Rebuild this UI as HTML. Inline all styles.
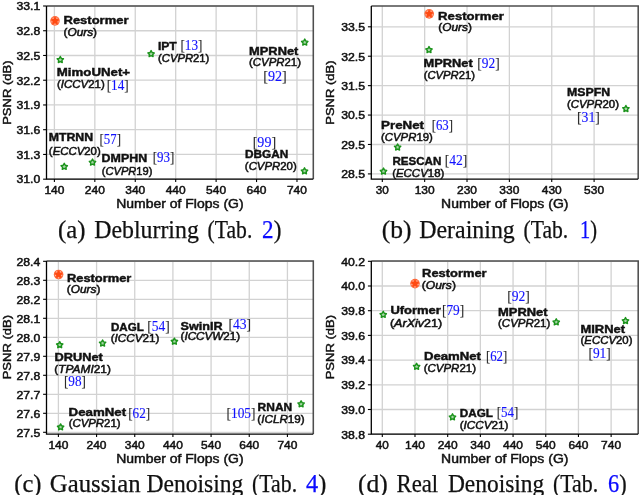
<!DOCTYPE html>
<html lang="en"><head><meta charset="utf-8"><title>Restormer: PSNR vs FLOPs</title>
<style>
html,body{margin:0;padding:0;background:#fff;}
body{width:640px;height:495px;overflow:hidden;font-family:"Liberation Sans",sans-serif;}
svg{display:block;will-change:transform;}
text{white-space:pre;}
</style></head><body>
<svg width="640" height="495" viewBox="0 0 640 495">
<rect width="640" height="495" fill="#fff"/>
<g id="chart-a">
<line x1="54.40" y1="5.95" x2="54.40" y2="179.05" stroke="#d2d2d2" stroke-width="1.3"/>
<line x1="94.83" y1="5.95" x2="94.83" y2="179.05" stroke="#d2d2d2" stroke-width="1.3"/>
<line x1="135.26" y1="5.95" x2="135.26" y2="179.05" stroke="#d2d2d2" stroke-width="1.3"/>
<line x1="175.69" y1="5.95" x2="175.69" y2="179.05" stroke="#d2d2d2" stroke-width="1.3"/>
<line x1="216.12" y1="5.95" x2="216.12" y2="179.05" stroke="#d2d2d2" stroke-width="1.3"/>
<line x1="256.55" y1="5.95" x2="256.55" y2="179.05" stroke="#d2d2d2" stroke-width="1.3"/>
<line x1="296.98" y1="5.95" x2="296.98" y2="179.05" stroke="#d2d2d2" stroke-width="1.3"/>
<line x1="46.50" y1="6.00" x2="313.30" y2="6.00" stroke="#d2d2d2" stroke-width="1.3"/>
<line x1="46.50" y1="30.74" x2="313.30" y2="30.74" stroke="#d2d2d2" stroke-width="1.3"/>
<line x1="46.50" y1="55.48" x2="313.30" y2="55.48" stroke="#d2d2d2" stroke-width="1.3"/>
<line x1="46.50" y1="80.22" x2="313.30" y2="80.22" stroke="#d2d2d2" stroke-width="1.3"/>
<line x1="46.50" y1="104.96" x2="313.30" y2="104.96" stroke="#d2d2d2" stroke-width="1.3"/>
<line x1="46.50" y1="129.70" x2="313.30" y2="129.70" stroke="#d2d2d2" stroke-width="1.3"/>
<line x1="46.50" y1="154.44" x2="313.30" y2="154.44" stroke="#d2d2d2" stroke-width="1.3"/>
<line x1="46.50" y1="179.18" x2="313.30" y2="179.18" stroke="#d2d2d2" stroke-width="1.3"/>
<circle cx="55.00" cy="20.85" r="4.8" fill="#ff6a3c"/>
<path d="M55.00 16.65 L56.35 18.99 L58.99 19.55 L57.19 21.56 L57.47 24.25 L55.00 23.15 L52.53 24.25 L52.81 21.56 L51.01 19.55 L53.65 18.99 Z" fill="#ff4a12"/>
<circle cx="56.94" cy="18.18" r="0.6" fill="#ffc9b8"/>
<circle cx="58.14" cy="21.87" r="0.6" fill="#ffc9b8"/>
<circle cx="55.00" cy="24.15" r="0.6" fill="#ffc9b8"/>
<circle cx="51.86" cy="21.87" r="0.6" fill="#ffc9b8"/>
<circle cx="53.06" cy="18.18" r="0.6" fill="#ffc9b8"/>
<path d="M60.30 56.50 L61.33 58.38 L63.44 58.78 L61.96 60.34 L62.24 62.47 L60.30 61.55 L58.36 62.47 L58.64 60.34 L57.16 58.78 L59.27 58.38 Z" fill="#a8d6a8" stroke="#1b931b" stroke-width="1.45" stroke-linejoin="round"/>
<path d="M151.10 50.60 L152.13 52.48 L154.24 52.88 L152.76 54.44 L153.04 56.57 L151.10 55.65 L149.16 56.57 L149.44 54.44 L147.96 52.88 L150.07 52.48 Z" fill="#a8d6a8" stroke="#1b931b" stroke-width="1.45" stroke-linejoin="round"/>
<path d="M304.75 39.10 L305.78 40.98 L307.89 41.38 L306.41 42.94 L306.69 45.07 L304.75 44.15 L302.81 45.07 L303.09 42.94 L301.61 41.38 L303.72 40.98 Z" fill="#a8d6a8" stroke="#1b931b" stroke-width="1.45" stroke-linejoin="round"/>
<path d="M64.25 163.35 L65.28 165.23 L67.39 165.63 L65.91 167.19 L66.19 169.32 L64.25 168.40 L62.31 169.32 L62.59 167.19 L61.11 165.63 L63.22 165.23 Z" fill="#a8d6a8" stroke="#1b931b" stroke-width="1.45" stroke-linejoin="round"/>
<path d="M92.50 159.10 L93.53 160.98 L95.64 161.38 L94.16 162.94 L94.44 165.07 L92.50 164.15 L90.56 165.07 L90.84 162.94 L89.36 161.38 L91.47 160.98 Z" fill="#a8d6a8" stroke="#1b931b" stroke-width="1.45" stroke-linejoin="round"/>
<path d="M304.50 167.85 L305.53 169.73 L307.64 170.13 L306.16 171.69 L306.44 173.82 L304.50 172.90 L302.56 173.82 L302.84 171.69 L301.36 170.13 L303.47 169.73 Z" fill="#a8d6a8" stroke="#1b931b" stroke-width="1.45" stroke-linejoin="round"/>
<path d="M46.50 5.95 H313.30 V179.05" fill="none" stroke="#4e4e4e" stroke-width="1.55"/>
<path d="M46.50 5.95 V179.05 H313.30" fill="none" stroke="#000" stroke-width="1.3"/>
<line x1="54.40" y1="179.05" x2="54.40" y2="182.05" stroke="#000" stroke-width="1.1"/>
<text x="44.40" y="193.60" font-family='"Liberation Sans", sans-serif' font-size="11.40" fill="#111" stroke="#111" stroke-width="0.50" textLength="19.98" lengthAdjust="spacingAndGlyphs">140</text>
<line x1="94.83" y1="179.05" x2="94.83" y2="182.05" stroke="#000" stroke-width="1.1"/>
<text x="84.83" y="193.60" font-family='"Liberation Sans", sans-serif' font-size="11.40" fill="#111" stroke="#111" stroke-width="0.50" textLength="19.98" lengthAdjust="spacingAndGlyphs">240</text>
<line x1="135.26" y1="179.05" x2="135.26" y2="182.05" stroke="#000" stroke-width="1.1"/>
<text x="125.26" y="193.60" font-family='"Liberation Sans", sans-serif' font-size="11.40" fill="#111" stroke="#111" stroke-width="0.50" textLength="19.98" lengthAdjust="spacingAndGlyphs">340</text>
<line x1="175.69" y1="179.05" x2="175.69" y2="182.05" stroke="#000" stroke-width="1.1"/>
<text x="165.69" y="193.60" font-family='"Liberation Sans", sans-serif' font-size="11.40" fill="#111" stroke="#111" stroke-width="0.50" textLength="19.98" lengthAdjust="spacingAndGlyphs">440</text>
<line x1="216.12" y1="179.05" x2="216.12" y2="182.05" stroke="#000" stroke-width="1.1"/>
<text x="206.12" y="193.60" font-family='"Liberation Sans", sans-serif' font-size="11.40" fill="#111" stroke="#111" stroke-width="0.50" textLength="19.98" lengthAdjust="spacingAndGlyphs">540</text>
<line x1="256.55" y1="179.05" x2="256.55" y2="182.05" stroke="#000" stroke-width="1.1"/>
<text x="246.55" y="193.60" font-family='"Liberation Sans", sans-serif' font-size="11.40" fill="#111" stroke="#111" stroke-width="0.50" textLength="19.98" lengthAdjust="spacingAndGlyphs">640</text>
<line x1="296.98" y1="179.05" x2="296.98" y2="182.05" stroke="#000" stroke-width="1.1"/>
<text x="286.98" y="193.60" font-family='"Liberation Sans", sans-serif' font-size="11.40" fill="#111" stroke="#111" stroke-width="0.50" textLength="19.98" lengthAdjust="spacingAndGlyphs">740</text>
<line x1="43.10" y1="6.00" x2="46.50" y2="6.00" stroke="#000" stroke-width="1.1"/>
<text x="16.45" y="10.30" font-family='"Liberation Sans", sans-serif' font-size="11.40" fill="#111" stroke="#111" stroke-width="0.50" textLength="23.82" lengthAdjust="spacingAndGlyphs">33.1</text>
<line x1="43.10" y1="30.74" x2="46.50" y2="30.74" stroke="#000" stroke-width="1.1"/>
<text x="16.45" y="35.04" font-family='"Liberation Sans", sans-serif' font-size="11.40" fill="#111" stroke="#111" stroke-width="0.50" textLength="23.82" lengthAdjust="spacingAndGlyphs">32.8</text>
<line x1="43.10" y1="55.48" x2="46.50" y2="55.48" stroke="#000" stroke-width="1.1"/>
<text x="16.45" y="59.78" font-family='"Liberation Sans", sans-serif' font-size="11.40" fill="#111" stroke="#111" stroke-width="0.50" textLength="23.82" lengthAdjust="spacingAndGlyphs">32.5</text>
<line x1="43.10" y1="80.22" x2="46.50" y2="80.22" stroke="#000" stroke-width="1.1"/>
<text x="16.45" y="84.52" font-family='"Liberation Sans", sans-serif' font-size="11.40" fill="#111" stroke="#111" stroke-width="0.50" textLength="23.82" lengthAdjust="spacingAndGlyphs">32.2</text>
<line x1="43.10" y1="104.96" x2="46.50" y2="104.96" stroke="#000" stroke-width="1.1"/>
<text x="16.45" y="109.26" font-family='"Liberation Sans", sans-serif' font-size="11.40" fill="#111" stroke="#111" stroke-width="0.50" textLength="23.82" lengthAdjust="spacingAndGlyphs">31.9</text>
<line x1="43.10" y1="129.70" x2="46.50" y2="129.70" stroke="#000" stroke-width="1.1"/>
<text x="16.45" y="134.00" font-family='"Liberation Sans", sans-serif' font-size="11.40" fill="#111" stroke="#111" stroke-width="0.50" textLength="23.82" lengthAdjust="spacingAndGlyphs">31.6</text>
<line x1="43.10" y1="154.44" x2="46.50" y2="154.44" stroke="#000" stroke-width="1.1"/>
<text x="16.45" y="158.74" font-family='"Liberation Sans", sans-serif' font-size="11.40" fill="#111" stroke="#111" stroke-width="0.50" textLength="23.82" lengthAdjust="spacingAndGlyphs">31.3</text>
<line x1="43.10" y1="179.18" x2="46.50" y2="179.18" stroke="#000" stroke-width="1.1"/>
<text x="16.45" y="183.48" font-family='"Liberation Sans", sans-serif' font-size="11.40" fill="#111" stroke="#111" stroke-width="0.50" textLength="23.82" lengthAdjust="spacingAndGlyphs">31.0</text>
<text x="116.22" y="207.90" font-family='"Liberation Sans", sans-serif' font-size="12.00" fill="#111" stroke="#111" stroke-width="0.45" textLength="127.33" lengthAdjust="spacingAndGlyphs">Number of Flops (G)</text>
<text transform="translate(10.90 92.70) rotate(-90)" x="-32.17" y="0" font-family='"Liberation Sans", sans-serif' font-size="11.60" fill="#111" stroke="#111" stroke-width="0.45" textLength="64.36" lengthAdjust="spacingAndGlyphs">PSNR (dB)</text>
<text x="63.50" y="24.30" font-family='"Liberation Sans", sans-serif' font-size="10.10" fill="#111" stroke="#111" stroke-width="0.40" textLength="65.03" lengthAdjust="spacingAndGlyphs"><tspan font-weight="bold">Restormer</tspan></text>
<text x="63.55" y="36.20" font-family='"Liberation Sans", sans-serif' font-size="10.70" fill="#111" stroke="#111" stroke-width="0.50" textLength="33.48" lengthAdjust="spacingAndGlyphs">(<tspan font-style="italic">Ours</tspan>)</text>
<text x="56.80" y="75.80" font-family='"Liberation Sans", sans-serif' font-size="10.10" fill="#111" stroke="#111" stroke-width="0.40" textLength="73.28" lengthAdjust="spacingAndGlyphs"><tspan font-weight="bold">MimoUNet+</tspan></text>
<text x="56.95" y="88.00" font-family='"Liberation Sans", sans-serif' font-size="10.70" fill="#111" stroke="#111" stroke-width="0.50" textLength="47.80" lengthAdjust="spacingAndGlyphs">(<tspan font-style="italic">ICCV</tspan>21)</text>
<text x="106.66" y="89.50" font-family='"Liberation Serif", serif' font-size="13.60" fill="#2a2a2a" stroke="#2a2a2a" stroke-width="0.12" textLength="22.05" lengthAdjust="spacingAndGlyphs">[<tspan fill="#1212ff" stroke="#1212ff">14</tspan>]</text>
<text x="157.90" y="49.60" font-family='"Liberation Sans", sans-serif' font-size="10.10" fill="#111" stroke="#111" stroke-width="0.40" textLength="18.91" lengthAdjust="spacingAndGlyphs"><tspan font-weight="bold">IPT</tspan></text>
<text x="180.46" y="49.50" font-family='"Liberation Serif", serif' font-size="13.60" fill="#2a2a2a" stroke="#2a2a2a" stroke-width="0.12" textLength="21.95" lengthAdjust="spacingAndGlyphs">[<tspan fill="#1212ff" stroke="#1212ff">13</tspan>]</text>
<text x="158.05" y="61.50" font-family='"Liberation Sans", sans-serif' font-size="10.70" fill="#111" stroke="#111" stroke-width="0.50" textLength="51.30" lengthAdjust="spacingAndGlyphs">(<tspan font-style="italic">CVPR</tspan>21)</text>
<text x="249.10" y="54.50" font-family='"Liberation Sans", sans-serif' font-size="10.10" fill="#111" stroke="#111" stroke-width="0.40" textLength="49.28" lengthAdjust="spacingAndGlyphs"><tspan font-weight="bold">MPRNet</tspan></text>
<text x="249.00" y="66.25" font-family='"Liberation Sans", sans-serif' font-size="10.70" fill="#111" stroke="#111" stroke-width="0.50" textLength="51.95" lengthAdjust="spacingAndGlyphs">(<tspan font-style="italic">CVPR</tspan>21)</text>
<text x="263.26" y="81.25" font-family='"Liberation Serif", serif' font-size="13.60" fill="#2a2a2a" stroke="#2a2a2a" stroke-width="0.12" textLength="23.55" lengthAdjust="spacingAndGlyphs">[<tspan fill="#1212ff" stroke="#1212ff">92</tspan>]</text>
<text x="48.70" y="141.30" font-family='"Liberation Sans", sans-serif' font-size="10.10" fill="#111" stroke="#111" stroke-width="0.40" textLength="44.41" lengthAdjust="spacingAndGlyphs"><tspan font-weight="bold">MTRNN</tspan></text>
<text x="99.56" y="144.30" font-family='"Liberation Serif", serif' font-size="13.60" fill="#2a2a2a" stroke="#2a2a2a" stroke-width="0.12" textLength="21.45" lengthAdjust="spacingAndGlyphs">[<tspan fill="#1212ff" stroke="#1212ff">57</tspan>]</text>
<text x="48.85" y="154.90" font-family='"Liberation Sans", sans-serif' font-size="10.70" fill="#111" stroke="#111" stroke-width="0.50" textLength="51.90" lengthAdjust="spacingAndGlyphs">(<tspan font-style="italic">ECCV</tspan>20)</text>
<text x="101.60" y="162.20" font-family='"Liberation Sans", sans-serif' font-size="10.10" fill="#111" stroke="#111" stroke-width="0.40" textLength="45.52" lengthAdjust="spacingAndGlyphs"><tspan font-weight="bold">DMPHN</tspan></text>
<text x="152.66" y="162.40" font-family='"Liberation Serif", serif' font-size="13.60" fill="#2a2a2a" stroke="#2a2a2a" stroke-width="0.12" textLength="21.65" lengthAdjust="spacingAndGlyphs">[<tspan fill="#1212ff" stroke="#1212ff">93</tspan>]</text>
<text x="101.75" y="175.00" font-family='"Liberation Sans", sans-serif' font-size="10.70" fill="#111" stroke="#111" stroke-width="0.50" textLength="50.70" lengthAdjust="spacingAndGlyphs">(<tspan font-style="italic">CVPR</tspan>19)</text>
<text x="252.66" y="146.90" font-family='"Liberation Serif", serif' font-size="13.60" fill="#2a2a2a" stroke="#2a2a2a" stroke-width="0.12" textLength="23.45" lengthAdjust="spacingAndGlyphs">[<tspan fill="#1212ff" stroke="#1212ff">99</tspan>]</text>
<text x="245.00" y="158.10" font-family='"Liberation Sans", sans-serif' font-size="10.10" fill="#111" stroke="#111" stroke-width="0.40" textLength="43.22" lengthAdjust="spacingAndGlyphs"><tspan font-weight="bold">DBGAN</tspan></text>
<text x="244.85" y="169.70" font-family='"Liberation Sans", sans-serif' font-size="10.70" fill="#111" stroke="#111" stroke-width="0.50" textLength="51.90" lengthAdjust="spacingAndGlyphs">(<tspan font-style="italic">CVPR</tspan>20)</text>
</g>
<g id="chart-b">
<line x1="382.30" y1="5.95" x2="382.30" y2="179.05" stroke="#d2d2d2" stroke-width="1.3"/>
<line x1="424.66" y1="5.95" x2="424.66" y2="179.05" stroke="#d2d2d2" stroke-width="1.3"/>
<line x1="467.02" y1="5.95" x2="467.02" y2="179.05" stroke="#d2d2d2" stroke-width="1.3"/>
<line x1="509.38" y1="5.95" x2="509.38" y2="179.05" stroke="#d2d2d2" stroke-width="1.3"/>
<line x1="551.74" y1="5.95" x2="551.74" y2="179.05" stroke="#d2d2d2" stroke-width="1.3"/>
<line x1="594.10" y1="5.95" x2="594.10" y2="179.05" stroke="#d2d2d2" stroke-width="1.3"/>
<line x1="371.30" y1="26.80" x2="638.20" y2="26.80" stroke="#d2d2d2" stroke-width="1.3"/>
<line x1="371.30" y1="56.22" x2="638.20" y2="56.22" stroke="#d2d2d2" stroke-width="1.3"/>
<line x1="371.30" y1="85.64" x2="638.20" y2="85.64" stroke="#d2d2d2" stroke-width="1.3"/>
<line x1="371.30" y1="115.06" x2="638.20" y2="115.06" stroke="#d2d2d2" stroke-width="1.3"/>
<line x1="371.30" y1="144.48" x2="638.20" y2="144.48" stroke="#d2d2d2" stroke-width="1.3"/>
<line x1="371.30" y1="173.90" x2="638.20" y2="173.90" stroke="#d2d2d2" stroke-width="1.3"/>
<circle cx="429.20" cy="13.85" r="4.8" fill="#ff6a3c"/>
<path d="M429.20 9.65 L430.55 11.99 L433.19 12.55 L431.39 14.56 L431.67 17.25 L429.20 16.15 L426.73 17.25 L427.01 14.56 L425.21 12.55 L427.85 11.99 Z" fill="#ff4a12"/>
<circle cx="431.14" cy="11.18" r="0.6" fill="#ffc9b8"/>
<circle cx="432.34" cy="14.87" r="0.6" fill="#ffc9b8"/>
<circle cx="429.20" cy="17.15" r="0.6" fill="#ffc9b8"/>
<circle cx="426.06" cy="14.87" r="0.6" fill="#ffc9b8"/>
<circle cx="427.26" cy="11.18" r="0.6" fill="#ffc9b8"/>
<path d="M429.00 46.60 L430.03 48.48 L432.14 48.88 L430.66 50.44 L430.94 52.57 L429.00 51.65 L427.06 52.57 L427.34 50.44 L425.86 48.88 L427.97 48.48 Z" fill="#a8d6a8" stroke="#1b931b" stroke-width="1.45" stroke-linejoin="round"/>
<path d="M625.90 105.50 L626.93 107.38 L629.04 107.78 L627.56 109.34 L627.84 111.47 L625.90 110.55 L623.96 111.47 L624.24 109.34 L622.76 107.78 L624.87 107.38 Z" fill="#a8d6a8" stroke="#1b931b" stroke-width="1.45" stroke-linejoin="round"/>
<path d="M397.60 144.00 L398.63 145.88 L400.74 146.28 L399.26 147.84 L399.54 149.97 L397.60 149.05 L395.66 149.97 L395.94 147.84 L394.46 146.28 L396.57 145.88 Z" fill="#a8d6a8" stroke="#1b931b" stroke-width="1.45" stroke-linejoin="round"/>
<path d="M383.50 168.10 L384.53 169.98 L386.64 170.38 L385.16 171.94 L385.44 174.07 L383.50 173.15 L381.56 174.07 L381.84 171.94 L380.36 170.38 L382.47 169.98 Z" fill="#a8d6a8" stroke="#1b931b" stroke-width="1.45" stroke-linejoin="round"/>
<path d="M371.30 5.95 H638.20 V179.05" fill="none" stroke="#4e4e4e" stroke-width="1.55"/>
<path d="M371.30 5.95 V179.05 H638.20" fill="none" stroke="#000" stroke-width="1.3"/>
<line x1="382.30" y1="179.05" x2="382.30" y2="182.05" stroke="#000" stroke-width="1.1"/>
<text x="375.80" y="193.60" font-family='"Liberation Sans", sans-serif' font-size="11.40" fill="#111" stroke="#111" stroke-width="0.50" textLength="13.03" lengthAdjust="spacingAndGlyphs">30</text>
<line x1="424.66" y1="179.05" x2="424.66" y2="182.05" stroke="#000" stroke-width="1.1"/>
<text x="414.66" y="193.60" font-family='"Liberation Sans", sans-serif' font-size="11.40" fill="#111" stroke="#111" stroke-width="0.50" textLength="19.98" lengthAdjust="spacingAndGlyphs">130</text>
<line x1="467.02" y1="179.05" x2="467.02" y2="182.05" stroke="#000" stroke-width="1.1"/>
<text x="457.02" y="193.60" font-family='"Liberation Sans", sans-serif' font-size="11.40" fill="#111" stroke="#111" stroke-width="0.50" textLength="19.98" lengthAdjust="spacingAndGlyphs">230</text>
<line x1="509.38" y1="179.05" x2="509.38" y2="182.05" stroke="#000" stroke-width="1.1"/>
<text x="499.38" y="193.60" font-family='"Liberation Sans", sans-serif' font-size="11.40" fill="#111" stroke="#111" stroke-width="0.50" textLength="19.98" lengthAdjust="spacingAndGlyphs">330</text>
<line x1="551.74" y1="179.05" x2="551.74" y2="182.05" stroke="#000" stroke-width="1.1"/>
<text x="541.74" y="193.60" font-family='"Liberation Sans", sans-serif' font-size="11.40" fill="#111" stroke="#111" stroke-width="0.50" textLength="19.98" lengthAdjust="spacingAndGlyphs">430</text>
<line x1="594.10" y1="179.05" x2="594.10" y2="182.05" stroke="#000" stroke-width="1.1"/>
<text x="584.10" y="193.60" font-family='"Liberation Sans", sans-serif' font-size="11.40" fill="#111" stroke="#111" stroke-width="0.50" textLength="19.98" lengthAdjust="spacingAndGlyphs">530</text>
<line x1="367.90" y1="26.80" x2="371.30" y2="26.80" stroke="#000" stroke-width="1.1"/>
<text x="341.25" y="31.10" font-family='"Liberation Sans", sans-serif' font-size="11.40" fill="#111" stroke="#111" stroke-width="0.50" textLength="23.82" lengthAdjust="spacingAndGlyphs">33.5</text>
<line x1="367.90" y1="56.22" x2="371.30" y2="56.22" stroke="#000" stroke-width="1.1"/>
<text x="341.25" y="60.52" font-family='"Liberation Sans", sans-serif' font-size="11.40" fill="#111" stroke="#111" stroke-width="0.50" textLength="23.82" lengthAdjust="spacingAndGlyphs">32.5</text>
<line x1="367.90" y1="85.64" x2="371.30" y2="85.64" stroke="#000" stroke-width="1.1"/>
<text x="341.25" y="89.94" font-family='"Liberation Sans", sans-serif' font-size="11.40" fill="#111" stroke="#111" stroke-width="0.50" textLength="23.82" lengthAdjust="spacingAndGlyphs">31.5</text>
<line x1="367.90" y1="115.06" x2="371.30" y2="115.06" stroke="#000" stroke-width="1.1"/>
<text x="341.25" y="119.36" font-family='"Liberation Sans", sans-serif' font-size="11.40" fill="#111" stroke="#111" stroke-width="0.50" textLength="23.82" lengthAdjust="spacingAndGlyphs">30.5</text>
<line x1="367.90" y1="144.48" x2="371.30" y2="144.48" stroke="#000" stroke-width="1.1"/>
<text x="341.25" y="148.78" font-family='"Liberation Sans", sans-serif' font-size="11.40" fill="#111" stroke="#111" stroke-width="0.50" textLength="23.82" lengthAdjust="spacingAndGlyphs">29.5</text>
<line x1="367.90" y1="173.90" x2="371.30" y2="173.90" stroke="#000" stroke-width="1.1"/>
<text x="341.25" y="178.20" font-family='"Liberation Sans", sans-serif' font-size="11.40" fill="#111" stroke="#111" stroke-width="0.50" textLength="23.82" lengthAdjust="spacingAndGlyphs">28.5</text>
<text x="441.08" y="207.90" font-family='"Liberation Sans", sans-serif' font-size="12.00" fill="#111" stroke="#111" stroke-width="0.45" textLength="127.33" lengthAdjust="spacingAndGlyphs">Number of Flops (G)</text>
<text transform="translate(334.30 92.60) rotate(-90)" x="-32.17" y="0" font-family='"Liberation Sans", sans-serif' font-size="11.60" fill="#111" stroke="#111" stroke-width="0.45" textLength="64.36" lengthAdjust="spacingAndGlyphs">PSNR (dB)</text>
<text x="438.10" y="19.60" font-family='"Liberation Sans", sans-serif' font-size="10.10" fill="#111" stroke="#111" stroke-width="0.40" textLength="65.73" lengthAdjust="spacingAndGlyphs"><tspan font-weight="bold">Restormer</tspan></text>
<text x="438.25" y="30.80" font-family='"Liberation Sans", sans-serif' font-size="10.70" fill="#111" stroke="#111" stroke-width="0.50" textLength="33.68" lengthAdjust="spacingAndGlyphs">(<tspan font-style="italic">Ours</tspan>)</text>
<text x="423.60" y="66.80" font-family='"Liberation Sans", sans-serif' font-size="10.10" fill="#111" stroke="#111" stroke-width="0.40" textLength="49.08" lengthAdjust="spacingAndGlyphs"><tspan font-weight="bold">MPRNet</tspan></text>
<text x="477.36" y="67.60" font-family='"Liberation Serif", serif' font-size="13.60" fill="#2a2a2a" stroke="#2a2a2a" stroke-width="0.12" textLength="22.35" lengthAdjust="spacingAndGlyphs">[<tspan fill="#1212ff" stroke="#1212ff">92</tspan>]</text>
<text x="423.75" y="79.00" font-family='"Liberation Sans", sans-serif' font-size="10.70" fill="#111" stroke="#111" stroke-width="0.50" textLength="51.20" lengthAdjust="spacingAndGlyphs">(<tspan font-style="italic">CVPR</tspan>21)</text>
<text x="567.10" y="96.10" font-family='"Liberation Sans", sans-serif' font-size="10.10" fill="#111" stroke="#111" stroke-width="0.40" textLength="43.10" lengthAdjust="spacingAndGlyphs"><tspan font-weight="bold">MSPFN</tspan></text>
<text x="566.95" y="108.40" font-family='"Liberation Sans", sans-serif' font-size="10.70" fill="#111" stroke="#111" stroke-width="0.50" textLength="52.00" lengthAdjust="spacingAndGlyphs">(<tspan font-style="italic">CVPR</tspan>20)</text>
<text x="577.06" y="122.10" font-family='"Liberation Serif", serif' font-size="13.60" fill="#2a2a2a" stroke="#2a2a2a" stroke-width="0.12" textLength="22.85" lengthAdjust="spacingAndGlyphs">[<tspan fill="#1212ff" stroke="#1212ff">31</tspan>]</text>
<text x="381.10" y="128.90" font-family='"Liberation Sans", sans-serif' font-size="10.10" fill="#111" stroke="#111" stroke-width="0.40" textLength="42.98" lengthAdjust="spacingAndGlyphs"><tspan font-weight="bold">PreNet</tspan></text>
<text x="431.66" y="130.30" font-family='"Liberation Serif", serif' font-size="13.60" fill="#2a2a2a" stroke="#2a2a2a" stroke-width="0.12" textLength="21.26" lengthAdjust="spacingAndGlyphs">[<tspan fill="#1212ff" stroke="#1212ff">63</tspan>]</text>
<text x="381.05" y="140.50" font-family='"Liberation Sans", sans-serif' font-size="10.70" fill="#111" stroke="#111" stroke-width="0.50" textLength="51.80" lengthAdjust="spacingAndGlyphs">(<tspan font-style="italic">CVPR</tspan>19)</text>
<text x="392.40" y="165.10" font-family='"Liberation Sans", sans-serif' font-size="10.10" fill="#111" stroke="#111" stroke-width="0.40" textLength="48.97" lengthAdjust="spacingAndGlyphs"><tspan font-weight="bold">RESCAN</tspan></text>
<text x="444.66" y="165.20" font-family='"Liberation Serif", serif' font-size="13.60" fill="#2a2a2a" stroke="#2a2a2a" stroke-width="0.12" textLength="22.65" lengthAdjust="spacingAndGlyphs">[<tspan fill="#1212ff" stroke="#1212ff">42</tspan>]</text>
<text x="392.15" y="176.90" font-family='"Liberation Sans", sans-serif' font-size="10.70" fill="#111" stroke="#111" stroke-width="0.50" textLength="52.20" lengthAdjust="spacingAndGlyphs">(<tspan font-style="italic">ECCV</tspan>18)</text>
</g>
<g id="chart-c">
<line x1="58.40" y1="261.00" x2="58.40" y2="434.05" stroke="#d2d2d2" stroke-width="1.3"/>
<line x1="96.57" y1="261.00" x2="96.57" y2="434.05" stroke="#d2d2d2" stroke-width="1.3"/>
<line x1="134.74" y1="261.00" x2="134.74" y2="434.05" stroke="#d2d2d2" stroke-width="1.3"/>
<line x1="172.91" y1="261.00" x2="172.91" y2="434.05" stroke="#d2d2d2" stroke-width="1.3"/>
<line x1="211.08" y1="261.00" x2="211.08" y2="434.05" stroke="#d2d2d2" stroke-width="1.3"/>
<line x1="249.25" y1="261.00" x2="249.25" y2="434.05" stroke="#d2d2d2" stroke-width="1.3"/>
<line x1="287.42" y1="261.00" x2="287.42" y2="434.05" stroke="#d2d2d2" stroke-width="1.3"/>
<line x1="46.50" y1="261.30" x2="313.30" y2="261.30" stroke="#d2d2d2" stroke-width="1.3"/>
<line x1="46.50" y1="280.30" x2="313.30" y2="280.30" stroke="#d2d2d2" stroke-width="1.3"/>
<line x1="46.50" y1="299.30" x2="313.30" y2="299.30" stroke="#d2d2d2" stroke-width="1.3"/>
<line x1="46.50" y1="318.30" x2="313.30" y2="318.30" stroke="#d2d2d2" stroke-width="1.3"/>
<line x1="46.50" y1="337.30" x2="313.30" y2="337.30" stroke="#d2d2d2" stroke-width="1.3"/>
<line x1="46.50" y1="356.30" x2="313.30" y2="356.30" stroke="#d2d2d2" stroke-width="1.3"/>
<line x1="46.50" y1="375.30" x2="313.30" y2="375.30" stroke="#d2d2d2" stroke-width="1.3"/>
<line x1="46.50" y1="394.30" x2="313.30" y2="394.30" stroke="#d2d2d2" stroke-width="1.3"/>
<line x1="46.50" y1="413.30" x2="313.30" y2="413.30" stroke="#d2d2d2" stroke-width="1.3"/>
<line x1="46.50" y1="432.30" x2="313.30" y2="432.30" stroke="#d2d2d2" stroke-width="1.3"/>
<circle cx="58.60" cy="274.50" r="4.8" fill="#ff6a3c"/>
<path d="M58.60 270.30 L59.95 272.64 L62.59 273.20 L60.79 275.21 L61.07 277.90 L58.60 276.80 L56.13 277.90 L56.41 275.21 L54.61 273.20 L57.25 272.64 Z" fill="#ff4a12"/>
<circle cx="60.54" cy="271.83" r="0.6" fill="#ffc9b8"/>
<circle cx="61.74" cy="275.52" r="0.6" fill="#ffc9b8"/>
<circle cx="58.60" cy="277.80" r="0.6" fill="#ffc9b8"/>
<circle cx="55.46" cy="275.52" r="0.6" fill="#ffc9b8"/>
<circle cx="56.66" cy="271.83" r="0.6" fill="#ffc9b8"/>
<path d="M59.70 341.70 L60.73 343.58 L62.84 343.98 L61.36 345.54 L61.64 347.67 L59.70 346.75 L57.76 347.67 L58.04 345.54 L56.56 343.98 L58.67 343.58 Z" fill="#a8d6a8" stroke="#1b931b" stroke-width="1.45" stroke-linejoin="round"/>
<path d="M102.60 340.00 L103.63 341.88 L105.74 342.28 L104.26 343.84 L104.54 345.97 L102.60 345.05 L100.66 345.97 L100.94 343.84 L99.46 342.28 L101.57 341.88 Z" fill="#a8d6a8" stroke="#1b931b" stroke-width="1.45" stroke-linejoin="round"/>
<path d="M174.40 338.20 L175.43 340.08 L177.54 340.48 L176.06 342.04 L176.34 344.17 L174.40 343.25 L172.46 344.17 L172.74 342.04 L171.26 340.48 L173.37 340.08 Z" fill="#a8d6a8" stroke="#1b931b" stroke-width="1.45" stroke-linejoin="round"/>
<path d="M301.10 400.80 L302.13 402.68 L304.24 403.08 L302.76 404.64 L303.04 406.77 L301.10 405.85 L299.16 406.77 L299.44 404.64 L297.96 403.08 L300.07 402.68 Z" fill="#a8d6a8" stroke="#1b931b" stroke-width="1.45" stroke-linejoin="round"/>
<path d="M60.60 423.90 L61.63 425.78 L63.74 426.18 L62.26 427.74 L62.54 429.87 L60.60 428.95 L58.66 429.87 L58.94 427.74 L57.46 426.18 L59.57 425.78 Z" fill="#a8d6a8" stroke="#1b931b" stroke-width="1.45" stroke-linejoin="round"/>
<path d="M46.50 261.00 H313.30 V434.05" fill="none" stroke="#4e4e4e" stroke-width="1.55"/>
<path d="M46.50 261.00 V434.05 H313.30" fill="none" stroke="#000" stroke-width="1.3"/>
<line x1="58.40" y1="434.05" x2="58.40" y2="437.05" stroke="#000" stroke-width="1.1"/>
<text x="48.40" y="448.60" font-family='"Liberation Sans", sans-serif' font-size="11.40" fill="#111" stroke="#111" stroke-width="0.50" textLength="19.98" lengthAdjust="spacingAndGlyphs">140</text>
<line x1="96.57" y1="434.05" x2="96.57" y2="437.05" stroke="#000" stroke-width="1.1"/>
<text x="86.57" y="448.60" font-family='"Liberation Sans", sans-serif' font-size="11.40" fill="#111" stroke="#111" stroke-width="0.50" textLength="19.98" lengthAdjust="spacingAndGlyphs">240</text>
<line x1="134.74" y1="434.05" x2="134.74" y2="437.05" stroke="#000" stroke-width="1.1"/>
<text x="124.74" y="448.60" font-family='"Liberation Sans", sans-serif' font-size="11.40" fill="#111" stroke="#111" stroke-width="0.50" textLength="19.98" lengthAdjust="spacingAndGlyphs">340</text>
<line x1="172.91" y1="434.05" x2="172.91" y2="437.05" stroke="#000" stroke-width="1.1"/>
<text x="162.91" y="448.60" font-family='"Liberation Sans", sans-serif' font-size="11.40" fill="#111" stroke="#111" stroke-width="0.50" textLength="19.98" lengthAdjust="spacingAndGlyphs">440</text>
<line x1="211.08" y1="434.05" x2="211.08" y2="437.05" stroke="#000" stroke-width="1.1"/>
<text x="201.08" y="448.60" font-family='"Liberation Sans", sans-serif' font-size="11.40" fill="#111" stroke="#111" stroke-width="0.50" textLength="19.98" lengthAdjust="spacingAndGlyphs">540</text>
<line x1="249.25" y1="434.05" x2="249.25" y2="437.05" stroke="#000" stroke-width="1.1"/>
<text x="239.25" y="448.60" font-family='"Liberation Sans", sans-serif' font-size="11.40" fill="#111" stroke="#111" stroke-width="0.50" textLength="19.98" lengthAdjust="spacingAndGlyphs">640</text>
<line x1="287.42" y1="434.05" x2="287.42" y2="437.05" stroke="#000" stroke-width="1.1"/>
<text x="277.42" y="448.60" font-family='"Liberation Sans", sans-serif' font-size="11.40" fill="#111" stroke="#111" stroke-width="0.50" textLength="19.98" lengthAdjust="spacingAndGlyphs">740</text>
<line x1="43.10" y1="261.30" x2="46.50" y2="261.30" stroke="#000" stroke-width="1.1"/>
<text x="16.45" y="265.60" font-family='"Liberation Sans", sans-serif' font-size="11.40" fill="#111" stroke="#111" stroke-width="0.50" textLength="23.82" lengthAdjust="spacingAndGlyphs">28.4</text>
<line x1="43.10" y1="280.30" x2="46.50" y2="280.30" stroke="#000" stroke-width="1.1"/>
<text x="16.45" y="284.60" font-family='"Liberation Sans", sans-serif' font-size="11.40" fill="#111" stroke="#111" stroke-width="0.50" textLength="23.82" lengthAdjust="spacingAndGlyphs">28.3</text>
<line x1="43.10" y1="299.30" x2="46.50" y2="299.30" stroke="#000" stroke-width="1.1"/>
<text x="16.45" y="303.60" font-family='"Liberation Sans", sans-serif' font-size="11.40" fill="#111" stroke="#111" stroke-width="0.50" textLength="23.82" lengthAdjust="spacingAndGlyphs">28.2</text>
<line x1="43.10" y1="318.30" x2="46.50" y2="318.30" stroke="#000" stroke-width="1.1"/>
<text x="16.45" y="322.60" font-family='"Liberation Sans", sans-serif' font-size="11.40" fill="#111" stroke="#111" stroke-width="0.50" textLength="23.82" lengthAdjust="spacingAndGlyphs">28.1</text>
<line x1="43.10" y1="337.30" x2="46.50" y2="337.30" stroke="#000" stroke-width="1.1"/>
<text x="16.45" y="341.60" font-family='"Liberation Sans", sans-serif' font-size="11.40" fill="#111" stroke="#111" stroke-width="0.50" textLength="23.82" lengthAdjust="spacingAndGlyphs">28.0</text>
<line x1="43.10" y1="356.30" x2="46.50" y2="356.30" stroke="#000" stroke-width="1.1"/>
<text x="16.45" y="360.60" font-family='"Liberation Sans", sans-serif' font-size="11.40" fill="#111" stroke="#111" stroke-width="0.50" textLength="23.82" lengthAdjust="spacingAndGlyphs">27.9</text>
<line x1="43.10" y1="375.30" x2="46.50" y2="375.30" stroke="#000" stroke-width="1.1"/>
<text x="16.45" y="379.60" font-family='"Liberation Sans", sans-serif' font-size="11.40" fill="#111" stroke="#111" stroke-width="0.50" textLength="23.82" lengthAdjust="spacingAndGlyphs">27.8</text>
<line x1="43.10" y1="394.30" x2="46.50" y2="394.30" stroke="#000" stroke-width="1.1"/>
<text x="16.45" y="398.60" font-family='"Liberation Sans", sans-serif' font-size="11.40" fill="#111" stroke="#111" stroke-width="0.50" textLength="23.82" lengthAdjust="spacingAndGlyphs">27.7</text>
<line x1="43.10" y1="413.30" x2="46.50" y2="413.30" stroke="#000" stroke-width="1.1"/>
<text x="16.45" y="417.60" font-family='"Liberation Sans", sans-serif' font-size="11.40" fill="#111" stroke="#111" stroke-width="0.50" textLength="23.82" lengthAdjust="spacingAndGlyphs">27.6</text>
<line x1="43.10" y1="432.30" x2="46.50" y2="432.30" stroke="#000" stroke-width="1.1"/>
<text x="16.45" y="436.60" font-family='"Liberation Sans", sans-serif' font-size="11.40" fill="#111" stroke="#111" stroke-width="0.50" textLength="23.82" lengthAdjust="spacingAndGlyphs">27.5</text>
<text x="116.22" y="462.90" font-family='"Liberation Sans", sans-serif' font-size="12.00" fill="#111" stroke="#111" stroke-width="0.45" textLength="127.33" lengthAdjust="spacingAndGlyphs">Number of Flops (G)</text>
<text transform="translate(10.90 347.20) rotate(-90)" x="-32.17" y="0" font-family='"Liberation Sans", sans-serif' font-size="11.60" fill="#111" stroke="#111" stroke-width="0.45" textLength="64.36" lengthAdjust="spacingAndGlyphs">PSNR (dB)</text>
<text x="67.00" y="281.50" font-family='"Liberation Sans", sans-serif' font-size="10.10" fill="#111" stroke="#111" stroke-width="0.40" textLength="64.33" lengthAdjust="spacingAndGlyphs"><tspan font-weight="bold">Restormer</tspan></text>
<text x="66.85" y="293.20" font-family='"Liberation Sans", sans-serif' font-size="10.70" fill="#111" stroke="#111" stroke-width="0.50" textLength="33.48" lengthAdjust="spacingAndGlyphs">(<tspan font-style="italic">Ours</tspan>)</text>
<text x="110.90" y="331.30" font-family='"Liberation Sans", sans-serif' font-size="10.10" fill="#111" stroke="#111" stroke-width="0.40" textLength="32.88" lengthAdjust="spacingAndGlyphs"><tspan font-weight="bold">DAGL</tspan></text>
<text x="147.16" y="331.20" font-family='"Liberation Serif", serif' font-size="13.60" fill="#2a2a2a" stroke="#2a2a2a" stroke-width="0.12" textLength="22.55" lengthAdjust="spacingAndGlyphs">[<tspan fill="#1212ff" stroke="#1212ff">54</tspan>]</text>
<text x="110.75" y="342.40" font-family='"Liberation Sans", sans-serif' font-size="10.70" fill="#111" stroke="#111" stroke-width="0.50" textLength="48.60" lengthAdjust="spacingAndGlyphs">(<tspan font-style="italic">ICCV</tspan>21)</text>
<text x="180.50" y="329.80" font-family='"Liberation Sans", sans-serif' font-size="10.10" fill="#111" stroke="#111" stroke-width="0.40" textLength="42.08" lengthAdjust="spacingAndGlyphs"><tspan font-weight="bold">SwinIR</tspan></text>
<text x="228.41" y="329.25" font-family='"Liberation Serif", serif' font-size="13.60" fill="#2a2a2a" stroke="#2a2a2a" stroke-width="0.12" textLength="22.65" lengthAdjust="spacingAndGlyphs">[<tspan fill="#1212ff" stroke="#1212ff">43</tspan>]</text>
<text x="180.55" y="340.10" font-family='"Liberation Sans", sans-serif' font-size="10.70" fill="#111" stroke="#111" stroke-width="0.50" textLength="59.70" lengthAdjust="spacingAndGlyphs">(<tspan font-style="italic">ICCVW</tspan>21)</text>
<text x="54.50" y="361.30" font-family='"Liberation Sans", sans-serif' font-size="10.10" fill="#111" stroke="#111" stroke-width="0.40" textLength="48.27" lengthAdjust="spacingAndGlyphs"><tspan font-weight="bold">DRUNet</tspan></text>
<text x="54.35" y="372.80" font-family='"Liberation Sans", sans-serif' font-size="10.70" fill="#111" stroke="#111" stroke-width="0.50" textLength="56.60" lengthAdjust="spacingAndGlyphs">(<tspan font-style="italic">TPAMI</tspan>21)</text>
<text x="63.91" y="385.90" font-family='"Liberation Serif", serif' font-size="13.60" fill="#2a2a2a" stroke="#2a2a2a" stroke-width="0.12" textLength="22.00" lengthAdjust="spacingAndGlyphs">[<tspan fill="#1212ff" stroke="#1212ff">98</tspan>]</text>
<text x="68.60" y="415.80" font-family='"Liberation Sans", sans-serif' font-size="10.10" fill="#111" stroke="#111" stroke-width="0.40" textLength="57.50" lengthAdjust="spacingAndGlyphs"><tspan font-weight="bold">DeamNet</tspan></text>
<text x="128.16" y="418.10" font-family='"Liberation Serif", serif' font-size="13.60" fill="#2a2a2a" stroke="#2a2a2a" stroke-width="0.12" textLength="21.95" lengthAdjust="spacingAndGlyphs">[<tspan fill="#1212ff" stroke="#1212ff">62</tspan>]</text>
<text x="68.65" y="426.50" font-family='"Liberation Sans", sans-serif' font-size="10.70" fill="#111" stroke="#111" stroke-width="0.50" textLength="51.90" lengthAdjust="spacingAndGlyphs">(<tspan font-style="italic">CVPR</tspan>21)</text>
<text x="226.56" y="417.70" font-family='"Liberation Serif", serif' font-size="13.60" fill="#2a2a2a" stroke="#2a2a2a" stroke-width="0.12" textLength="28.95" lengthAdjust="spacingAndGlyphs">[<tspan fill="#1212ff" stroke="#1212ff">105</tspan>]</text>
<text x="257.60" y="411.20" font-family='"Liberation Sans", sans-serif' font-size="10.10" fill="#111" stroke="#111" stroke-width="0.40" textLength="34.59" lengthAdjust="spacingAndGlyphs"><tspan font-weight="bold">RNAN</tspan></text>
<text x="257.35" y="422.70" font-family='"Liberation Sans", sans-serif' font-size="10.70" fill="#111" stroke="#111" stroke-width="0.50" textLength="47.40" lengthAdjust="spacingAndGlyphs">(<tspan font-style="italic">ICLR</tspan>19)</text>
</g>
<g id="chart-d">
<line x1="382.30" y1="261.00" x2="382.30" y2="434.05" stroke="#d2d2d2" stroke-width="1.3"/>
<line x1="414.99" y1="261.00" x2="414.99" y2="434.05" stroke="#d2d2d2" stroke-width="1.3"/>
<line x1="447.68" y1="261.00" x2="447.68" y2="434.05" stroke="#d2d2d2" stroke-width="1.3"/>
<line x1="480.37" y1="261.00" x2="480.37" y2="434.05" stroke="#d2d2d2" stroke-width="1.3"/>
<line x1="513.06" y1="261.00" x2="513.06" y2="434.05" stroke="#d2d2d2" stroke-width="1.3"/>
<line x1="545.75" y1="261.00" x2="545.75" y2="434.05" stroke="#d2d2d2" stroke-width="1.3"/>
<line x1="578.44" y1="261.00" x2="578.44" y2="434.05" stroke="#d2d2d2" stroke-width="1.3"/>
<line x1="611.13" y1="261.00" x2="611.13" y2="434.05" stroke="#d2d2d2" stroke-width="1.3"/>
<line x1="371.30" y1="261.30" x2="638.20" y2="261.30" stroke="#d2d2d2" stroke-width="1.3"/>
<line x1="371.30" y1="286.00" x2="638.20" y2="286.00" stroke="#d2d2d2" stroke-width="1.3"/>
<line x1="371.30" y1="310.70" x2="638.20" y2="310.70" stroke="#d2d2d2" stroke-width="1.3"/>
<line x1="371.30" y1="335.40" x2="638.20" y2="335.40" stroke="#d2d2d2" stroke-width="1.3"/>
<line x1="371.30" y1="360.10" x2="638.20" y2="360.10" stroke="#d2d2d2" stroke-width="1.3"/>
<line x1="371.30" y1="384.80" x2="638.20" y2="384.80" stroke="#d2d2d2" stroke-width="1.3"/>
<line x1="371.30" y1="409.50" x2="638.20" y2="409.50" stroke="#d2d2d2" stroke-width="1.3"/>
<line x1="371.30" y1="434.20" x2="638.20" y2="434.20" stroke="#d2d2d2" stroke-width="1.3"/>
<circle cx="415.00" cy="283.60" r="4.8" fill="#ff6a3c"/>
<path d="M415.00 279.40 L416.35 281.74 L418.99 282.30 L417.19 284.31 L417.47 287.00 L415.00 285.90 L412.53 287.00 L412.81 284.31 L411.01 282.30 L413.65 281.74 Z" fill="#ff4a12"/>
<circle cx="416.94" cy="280.93" r="0.6" fill="#ffc9b8"/>
<circle cx="418.14" cy="284.62" r="0.6" fill="#ffc9b8"/>
<circle cx="415.00" cy="286.90" r="0.6" fill="#ffc9b8"/>
<circle cx="411.86" cy="284.62" r="0.6" fill="#ffc9b8"/>
<circle cx="413.06" cy="280.93" r="0.6" fill="#ffc9b8"/>
<path d="M383.25 311.35 L384.28 313.23 L386.39 313.63 L384.91 315.19 L385.19 317.32 L383.25 316.40 L381.31 317.32 L381.59 315.19 L380.11 313.63 L382.22 313.23 Z" fill="#a8d6a8" stroke="#1b931b" stroke-width="1.45" stroke-linejoin="round"/>
<path d="M416.60 363.30 L417.63 365.18 L419.74 365.58 L418.26 367.14 L418.54 369.27 L416.60 368.35 L414.66 369.27 L414.94 367.14 L413.46 365.58 L415.57 365.18 Z" fill="#a8d6a8" stroke="#1b931b" stroke-width="1.45" stroke-linejoin="round"/>
<path d="M452.50 413.85 L453.53 415.73 L455.64 416.13 L454.16 417.69 L454.44 419.82 L452.50 418.90 L450.56 419.82 L450.84 417.69 L449.36 416.13 L451.47 415.73 Z" fill="#a8d6a8" stroke="#1b931b" stroke-width="1.45" stroke-linejoin="round"/>
<path d="M556.25 318.85 L557.28 320.73 L559.39 321.13 L557.91 322.69 L558.19 324.82 L556.25 323.90 L554.31 324.82 L554.59 322.69 L553.11 321.13 L555.22 320.73 Z" fill="#a8d6a8" stroke="#1b931b" stroke-width="1.45" stroke-linejoin="round"/>
<path d="M625.50 317.60 L626.53 319.48 L628.64 319.88 L627.16 321.44 L627.44 323.57 L625.50 322.65 L623.56 323.57 L623.84 321.44 L622.36 319.88 L624.47 319.48 Z" fill="#a8d6a8" stroke="#1b931b" stroke-width="1.45" stroke-linejoin="round"/>
<path d="M371.30 261.00 H638.20 V434.05" fill="none" stroke="#4e4e4e" stroke-width="1.55"/>
<path d="M371.30 261.00 V434.05 H638.20" fill="none" stroke="#000" stroke-width="1.3"/>
<line x1="382.30" y1="434.05" x2="382.30" y2="437.05" stroke="#000" stroke-width="1.1"/>
<text x="375.80" y="448.60" font-family='"Liberation Sans", sans-serif' font-size="11.40" fill="#111" stroke="#111" stroke-width="0.50" textLength="13.03" lengthAdjust="spacingAndGlyphs">40</text>
<line x1="414.99" y1="434.05" x2="414.99" y2="437.05" stroke="#000" stroke-width="1.1"/>
<text x="404.99" y="448.60" font-family='"Liberation Sans", sans-serif' font-size="11.40" fill="#111" stroke="#111" stroke-width="0.50" textLength="19.98" lengthAdjust="spacingAndGlyphs">140</text>
<line x1="447.68" y1="434.05" x2="447.68" y2="437.05" stroke="#000" stroke-width="1.1"/>
<text x="437.68" y="448.60" font-family='"Liberation Sans", sans-serif' font-size="11.40" fill="#111" stroke="#111" stroke-width="0.50" textLength="19.98" lengthAdjust="spacingAndGlyphs">240</text>
<line x1="480.37" y1="434.05" x2="480.37" y2="437.05" stroke="#000" stroke-width="1.1"/>
<text x="470.37" y="448.60" font-family='"Liberation Sans", sans-serif' font-size="11.40" fill="#111" stroke="#111" stroke-width="0.50" textLength="19.98" lengthAdjust="spacingAndGlyphs">340</text>
<line x1="513.06" y1="434.05" x2="513.06" y2="437.05" stroke="#000" stroke-width="1.1"/>
<text x="503.06" y="448.60" font-family='"Liberation Sans", sans-serif' font-size="11.40" fill="#111" stroke="#111" stroke-width="0.50" textLength="19.98" lengthAdjust="spacingAndGlyphs">440</text>
<line x1="545.75" y1="434.05" x2="545.75" y2="437.05" stroke="#000" stroke-width="1.1"/>
<text x="535.75" y="448.60" font-family='"Liberation Sans", sans-serif' font-size="11.40" fill="#111" stroke="#111" stroke-width="0.50" textLength="19.98" lengthAdjust="spacingAndGlyphs">540</text>
<line x1="578.44" y1="434.05" x2="578.44" y2="437.05" stroke="#000" stroke-width="1.1"/>
<text x="568.44" y="448.60" font-family='"Liberation Sans", sans-serif' font-size="11.40" fill="#111" stroke="#111" stroke-width="0.50" textLength="19.98" lengthAdjust="spacingAndGlyphs">640</text>
<line x1="611.13" y1="434.05" x2="611.13" y2="437.05" stroke="#000" stroke-width="1.1"/>
<text x="601.13" y="448.60" font-family='"Liberation Sans", sans-serif' font-size="11.40" fill="#111" stroke="#111" stroke-width="0.50" textLength="19.98" lengthAdjust="spacingAndGlyphs">740</text>
<line x1="367.90" y1="261.30" x2="371.30" y2="261.30" stroke="#000" stroke-width="1.1"/>
<text x="341.25" y="265.60" font-family='"Liberation Sans", sans-serif' font-size="11.40" fill="#111" stroke="#111" stroke-width="0.50" textLength="23.82" lengthAdjust="spacingAndGlyphs">40.2</text>
<line x1="367.90" y1="286.00" x2="371.30" y2="286.00" stroke="#000" stroke-width="1.1"/>
<text x="341.25" y="290.30" font-family='"Liberation Sans", sans-serif' font-size="11.40" fill="#111" stroke="#111" stroke-width="0.50" textLength="23.82" lengthAdjust="spacingAndGlyphs">40.0</text>
<line x1="367.90" y1="310.70" x2="371.30" y2="310.70" stroke="#000" stroke-width="1.1"/>
<text x="341.25" y="315.00" font-family='"Liberation Sans", sans-serif' font-size="11.40" fill="#111" stroke="#111" stroke-width="0.50" textLength="23.82" lengthAdjust="spacingAndGlyphs">39.8</text>
<line x1="367.90" y1="335.40" x2="371.30" y2="335.40" stroke="#000" stroke-width="1.1"/>
<text x="341.25" y="339.70" font-family='"Liberation Sans", sans-serif' font-size="11.40" fill="#111" stroke="#111" stroke-width="0.50" textLength="23.82" lengthAdjust="spacingAndGlyphs">39.6</text>
<line x1="367.90" y1="360.10" x2="371.30" y2="360.10" stroke="#000" stroke-width="1.1"/>
<text x="341.25" y="364.40" font-family='"Liberation Sans", sans-serif' font-size="11.40" fill="#111" stroke="#111" stroke-width="0.50" textLength="23.82" lengthAdjust="spacingAndGlyphs">39.4</text>
<line x1="367.90" y1="384.80" x2="371.30" y2="384.80" stroke="#000" stroke-width="1.1"/>
<text x="341.25" y="389.10" font-family='"Liberation Sans", sans-serif' font-size="11.40" fill="#111" stroke="#111" stroke-width="0.50" textLength="23.82" lengthAdjust="spacingAndGlyphs">39.2</text>
<line x1="367.90" y1="409.50" x2="371.30" y2="409.50" stroke="#000" stroke-width="1.1"/>
<text x="341.25" y="413.80" font-family='"Liberation Sans", sans-serif' font-size="11.40" fill="#111" stroke="#111" stroke-width="0.50" textLength="23.82" lengthAdjust="spacingAndGlyphs">39.0</text>
<line x1="367.90" y1="434.20" x2="371.30" y2="434.20" stroke="#000" stroke-width="1.1"/>
<text x="341.25" y="438.50" font-family='"Liberation Sans", sans-serif' font-size="11.40" fill="#111" stroke="#111" stroke-width="0.50" textLength="23.82" lengthAdjust="spacingAndGlyphs">38.8</text>
<text x="441.08" y="462.90" font-family='"Liberation Sans", sans-serif' font-size="12.00" fill="#111" stroke="#111" stroke-width="0.45" textLength="127.33" lengthAdjust="spacingAndGlyphs">Number of Flops (G)</text>
<text transform="translate(334.30 347.20) rotate(-90)" x="-32.17" y="0" font-family='"Liberation Sans", sans-serif' font-size="11.60" fill="#111" stroke="#111" stroke-width="0.45" textLength="64.36" lengthAdjust="spacingAndGlyphs">PSNR (dB)</text>
<text x="422.10" y="276.50" font-family='"Liberation Sans", sans-serif' font-size="10.10" fill="#111" stroke="#111" stroke-width="0.40" textLength="64.53" lengthAdjust="spacingAndGlyphs"><tspan font-weight="bold">Restormer</tspan></text>
<text x="421.75" y="289.20" font-family='"Liberation Sans", sans-serif' font-size="10.70" fill="#111" stroke="#111" stroke-width="0.50" textLength="34.18" lengthAdjust="spacingAndGlyphs">(<tspan font-style="italic">Ours</tspan>)</text>
<text x="390.40" y="313.70" font-family='"Liberation Sans", sans-serif' font-size="10.10" fill="#111" stroke="#111" stroke-width="0.40" textLength="50.50" lengthAdjust="spacingAndGlyphs"><tspan font-weight="bold">Uformer</tspan></text>
<text x="441.96" y="314.60" font-family='"Liberation Serif", serif' font-size="13.60" fill="#2a2a2a" stroke="#2a2a2a" stroke-width="0.12" textLength="22.25" lengthAdjust="spacingAndGlyphs">[<tspan fill="#1212ff" stroke="#1212ff">79</tspan>]</text>
<text x="389.95" y="326.60" font-family='"Liberation Sans", sans-serif' font-size="10.70" fill="#111" stroke="#111" stroke-width="0.50" textLength="52.20" lengthAdjust="spacingAndGlyphs">(<tspan font-style="italic">ArXiv</tspan>21)</text>
<text x="423.90" y="359.90" font-family='"Liberation Sans", sans-serif' font-size="10.10" fill="#111" stroke="#111" stroke-width="0.40" textLength="57.10" lengthAdjust="spacingAndGlyphs"><tspan font-weight="bold">DeamNet</tspan></text>
<text x="485.96" y="361.00" font-family='"Liberation Serif", serif' font-size="13.60" fill="#2a2a2a" stroke="#2a2a2a" stroke-width="0.12" textLength="21.26" lengthAdjust="spacingAndGlyphs">[<tspan fill="#1212ff" stroke="#1212ff">62</tspan>]</text>
<text x="423.65" y="371.50" font-family='"Liberation Sans", sans-serif' font-size="10.70" fill="#111" stroke="#111" stroke-width="0.50" textLength="52.40" lengthAdjust="spacingAndGlyphs">(<tspan font-style="italic">CVPR</tspan>21)</text>
<text x="459.80" y="417.00" font-family='"Liberation Sans", sans-serif' font-size="10.10" fill="#111" stroke="#111" stroke-width="0.40" textLength="33.18" lengthAdjust="spacingAndGlyphs"><tspan font-weight="bold">DAGL</tspan></text>
<text x="496.66" y="417.40" font-family='"Liberation Serif", serif' font-size="13.60" fill="#2a2a2a" stroke="#2a2a2a" stroke-width="0.12" textLength="21.65" lengthAdjust="spacingAndGlyphs">[<tspan fill="#1212ff" stroke="#1212ff">54</tspan>]</text>
<text x="459.65" y="428.90" font-family='"Liberation Sans", sans-serif' font-size="10.70" fill="#111" stroke="#111" stroke-width="0.50" textLength="48.80" lengthAdjust="spacingAndGlyphs">(<tspan font-style="italic">ICCV</tspan>21)</text>
<text x="507.16" y="301.00" font-family='"Liberation Serif", serif' font-size="13.60" fill="#2a2a2a" stroke="#2a2a2a" stroke-width="0.12" textLength="22.65" lengthAdjust="spacingAndGlyphs">[<tspan fill="#1212ff" stroke="#1212ff">92</tspan>]</text>
<text x="498.00" y="316.00" font-family='"Liberation Sans", sans-serif' font-size="10.10" fill="#111" stroke="#111" stroke-width="0.40" textLength="49.58" lengthAdjust="spacingAndGlyphs"><tspan font-weight="bold">MPRNet</tspan></text>
<text x="498.05" y="326.90" font-family='"Liberation Sans", sans-serif' font-size="10.70" fill="#111" stroke="#111" stroke-width="0.50" textLength="52.20" lengthAdjust="spacingAndGlyphs">(<tspan font-style="italic">CVPR</tspan>21)</text>
<text x="580.50" y="332.80" font-family='"Liberation Sans", sans-serif' font-size="10.10" fill="#111" stroke="#111" stroke-width="0.40" textLength="44.59" lengthAdjust="spacingAndGlyphs"><tspan font-weight="bold">MIRNet</tspan></text>
<text x="580.55" y="344.40" font-family='"Liberation Sans", sans-serif' font-size="10.70" fill="#111" stroke="#111" stroke-width="0.50" textLength="51.90" lengthAdjust="spacingAndGlyphs">(<tspan font-style="italic">ECCV</tspan>20)</text>
<text x="588.41" y="357.50" font-family='"Liberation Serif", serif' font-size="13.60" fill="#2a2a2a" stroke="#2a2a2a" stroke-width="0.12" textLength="22.40" lengthAdjust="spacingAndGlyphs">[<tspan fill="#1212ff" stroke="#1212ff">91</tspan>]</text>
</g>
<g id="captions">
<text x="58.02" y="237.70" font-family='"Liberation Serif", serif' font-size="24.80" fill="#111" stroke="#111" stroke-width="0.25" textLength="27.45" lengthAdjust="spacingAndGlyphs">(a)</text>
<text x="94.22" y="237.70" font-family='"Liberation Serif", serif' font-size="24.80" fill="#111" stroke="#111" stroke-width="0.25" textLength="104.60" lengthAdjust="spacingAndGlyphs">Deblurring</text>
<text x="207.62" y="237.70" font-family='"Liberation Serif", serif' font-size="24.80" fill="#111" stroke="#111" stroke-width="0.25" textLength="44.70" lengthAdjust="spacingAndGlyphs">(Tab.</text>
<text x="262.12" y="237.70" font-family='"Liberation Serif", serif' font-size="24.80" fill="#111" stroke="#111" stroke-width="0.25" textLength="19.30" lengthAdjust="spacingAndGlyphs"><tspan fill="#0a0aff" stroke="#0a0aff">2</tspan>)</text>
<text x="381.73" y="237.70" font-family='"Liberation Serif", serif' font-size="24.80" fill="#111" stroke="#111" stroke-width="0.25" textLength="29.78" lengthAdjust="spacingAndGlyphs">(b)</text>
<text x="419.23" y="237.70" font-family='"Liberation Serif", serif' font-size="24.80" fill="#111" stroke="#111" stroke-width="0.25" textLength="95.61" lengthAdjust="spacingAndGlyphs">Deraining</text>
<text x="523.52" y="237.70" font-family='"Liberation Serif", serif' font-size="24.80" fill="#111" stroke="#111" stroke-width="0.25" textLength="44.70" lengthAdjust="spacingAndGlyphs">(Tab.</text>
<text x="580.12" y="237.70" font-family='"Liberation Serif", serif' font-size="24.80" fill="#111" stroke="#111" stroke-width="0.25" textLength="17.01" lengthAdjust="spacingAndGlyphs"><tspan fill="#0a0aff" stroke="#0a0aff">1</tspan>)</text>
<text x="14.22" y="491.60" font-family='"Liberation Serif", serif' font-size="24.80" fill="#111" stroke="#111" stroke-width="0.25" textLength="27.25" lengthAdjust="spacingAndGlyphs">(c)</text>
<text x="49.83" y="491.60" font-family='"Liberation Serif", serif' font-size="24.80" fill="#111" stroke="#111" stroke-width="0.25" textLength="90.67" lengthAdjust="spacingAndGlyphs">Gaussian</text>
<text x="146.43" y="491.60" font-family='"Liberation Serif", serif' font-size="24.80" fill="#111" stroke="#111" stroke-width="0.25" textLength="96.87" lengthAdjust="spacingAndGlyphs">Denoising</text>
<text x="252.03" y="491.60" font-family='"Liberation Serif", serif' font-size="24.80" fill="#111" stroke="#111" stroke-width="0.25" textLength="45.10" lengthAdjust="spacingAndGlyphs">(Tab.</text>
<text x="306.02" y="491.60" font-family='"Liberation Serif", serif' font-size="24.80" fill="#111" stroke="#111" stroke-width="0.25" textLength="20.30" lengthAdjust="spacingAndGlyphs"><tspan fill="#0a0aff" stroke="#0a0aff">4</tspan>)</text>
<text x="357.93" y="491.60" font-family='"Liberation Serif", serif' font-size="24.80" fill="#111" stroke="#111" stroke-width="0.25" textLength="29.78" lengthAdjust="spacingAndGlyphs">(d)</text>
<text x="396.43" y="491.60" font-family='"Liberation Serif", serif' font-size="24.80" fill="#111" stroke="#111" stroke-width="0.25" textLength="41.79" lengthAdjust="spacingAndGlyphs">Real</text>
<text x="447.93" y="491.60" font-family='"Liberation Serif", serif' font-size="24.80" fill="#111" stroke="#111" stroke-width="0.25" textLength="96.37" lengthAdjust="spacingAndGlyphs">Denoising</text>
<text x="552.92" y="491.60" font-family='"Liberation Serif", serif' font-size="24.80" fill="#111" stroke="#111" stroke-width="0.25" textLength="45.30" lengthAdjust="spacingAndGlyphs">(Tab.</text>
<text x="608.12" y="491.60" font-family='"Liberation Serif", serif' font-size="24.80" fill="#111" stroke="#111" stroke-width="0.25" textLength="18.61" lengthAdjust="spacingAndGlyphs"><tspan fill="#0a0aff" stroke="#0a0aff">6</tspan>)</text>
</g>
</svg>
</body></html>
